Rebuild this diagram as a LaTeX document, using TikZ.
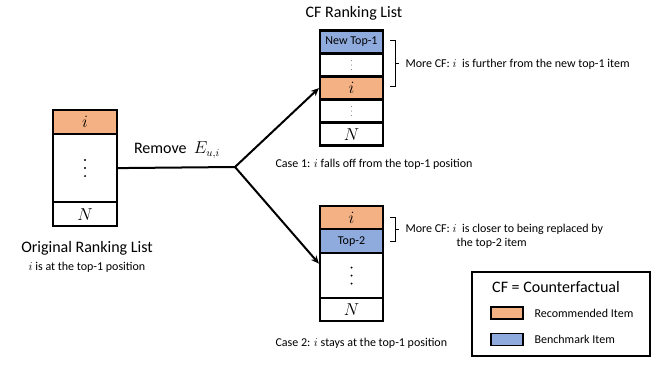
\documentclass[tikz,border=0pt]{standalone}
\usepackage{fontspec}
\setmainfont{Carlito}
\usetikzlibrary{arrows.meta}
\definecolor{recorange}{HTML}{F4B183}
\definecolor{benchblue}{HTML}{8FAADC}
\begin{document}
\begin{tikzpicture}[x=1pt,y=-1pt,
  cell/.style={draw, line width=2.2pt, minimum width=64pt, inner sep=0pt, anchor=north},
  rec/.style={fill=recorange},
  bench/.style={fill=benchblue},
  big/.style={font=\fontsize{16}{19}\selectfont},
  small/.style={font=\fontsize{12}{14}\selectfont},
  conn/.style={line width=2pt},
  arr/.style={line width=2pt, -{Stealth[length=8pt,width=7pt]}},
  brk/.style={line width=1pt}]
\useasboundingbox (0,0) rectangle (664,374);
% left list
\node[cell, rec, big, minimum height=24pt] (L1) at (85,109) {$i$};
\node[cell, minimum height=68pt] (L2) at (85,133) {};
\node[cell, big, minimum height=24pt] (L3) at (85,201) {$N$};
\node[big, anchor=center] (ltitle) at (87,248) {Original Ranking List};
\node[small, anchor=center] (lsub) at (87,267) {$i$ is at the top-1 position};
% upper list
\node[big] (utitle) at (354,13) {CF Ranking List};
\node[cell, bench, small, minimum height=23pt, minimum width=63pt] (U1) at (351.5,29.5) {New Top-1};
\node[cell, minimum height=23pt, minimum width=63pt] (U2) at (351.5,52.5) {};
\node[cell, rec, big, minimum height=23pt, minimum width=63pt] (U3) at (351.5,75.5) {$i$};
\node[cell, minimum height=23pt, minimum width=63pt] (U4) at (351.5,98.5) {};
\node[cell, big, minimum height=23pt, minimum width=63pt] (U5) at (351.5,121.5) {$N$};
\node[small, anchor=west] (case1) at (272,164) {Case 1: $i$ falls off from the top-1 position};
% lower list
\node[cell, rec, big, minimum height=23pt, minimum width=63pt] (D1) at (351.5,205) {$i$};
\node[cell, bench, small, minimum height=24pt, minimum width=63pt] (D2) at (351.5,228) {Top-2};
\node[cell, minimum height=45pt, minimum width=63pt] (D3) at (351.5,252) {};
\node[cell, big, minimum height=23pt, minimum width=63pt] (D4) at (351.5,297) {$N$};
\node[small, anchor=west] (case2) at (272,343) {Case 2: $i$ stays at the top-1 position};
% vertical dots
\foreach \c in {L2,D3}{
  \foreach \d in {-8,0,8} \fill ([yshift=\d pt]\c.center) circle (1.1pt);
}
\foreach \c in {U2,U4}{
  \foreach \d in {-4.5,0,4.5} \fill[gray] ([yshift=\d pt]\c.center) circle (0.6pt);
}
% connectors
\coordinate (J) at (235,167);
\draw[conn] (L2.east) -- (J);
\node[big, anchor=south] (remove) at (177,162) {Remove\ \ $E_{u,i}$};
\draw[arr] (J) -- (U3.west);
\coordinate (D3in) at ([yshift=12pt]D3.west);
\draw[arr] (J) -- (D3in);
% brackets
\coordinate (b1t) at (390,41);
\coordinate (b1b) at (390,87);
\draw[brk] (b1t) -- ++(5,0) -- ++(0,46) -- (b1b);
\draw[brk] (395,64) -- ++(4,0);
\node[small, anchor=west] (note1) at (402,64) {More CF: $i$\ \ is further from the new top-1 item};
\coordinate (b2t) at (390,218);
\coordinate (b2b) at (390,242);
\draw[brk] (b2t) -- ++(5,0) -- ++(0,24) -- (b2b);
\draw[brk] (395,230) -- ++(4,0);
\node[small, anchor=west] (note2) at (402,229) {More CF: $i$\ \ is closer to being replaced by};
\node[small, anchor=west] (note2b) at (453,243) {the top-2 item};
% legend
\node[draw, line width=1.5pt, minimum width=178pt, minimum height=84pt, anchor=north west, inner sep=0pt] (legend) at (471,271) {};
\node[big] (ltitle2) at (556,287) {CF = Counterfactual};
\node[draw, line width=1.5pt, fill=recorange, minimum width=32pt, minimum height=12pt, inner sep=0pt] (sw1) at (507,313) {};
\node[draw, line width=1.5pt, fill=benchblue, minimum width=32pt, minimum height=12pt, inner sep=0pt] (sw2) at (507,339.5) {};
\node[small, anchor=west] (lab1) at (531,313) {Recommended Item};
\node[small, anchor=west] (lab2) at (531,339.5) {Benchmark Item};
\end{tikzpicture}
\end{document}
